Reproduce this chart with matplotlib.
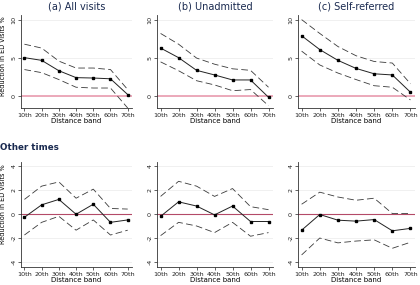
import matplotlib.pyplot as plt
import numpy as np

bands = ["10th", "20th", "30th", "40th", "50th", "60th", "70th"]

# top row (main results)
a_est = [5.05, 4.7, 3.35, 2.45, 2.4, 2.3, 0.25]
a_hi = [6.8, 6.3, 4.6, 3.7, 3.7, 3.5, 0.9]
a_lo = [3.5, 3.1, 2.2, 1.2, 1.1, 1.1, -1.5]

b_est = [6.3, 5.05, 3.4, 2.8, 2.15, 2.15, -0.1]
b_hi = [8.2, 6.8, 5.0, 4.2, 3.6, 3.4, 1.2]
b_lo = [4.5, 3.35, 2.05, 1.5, 0.75, 0.9, -1.2]

c_est = [7.9, 6.1, 4.7, 3.65, 2.95, 2.8, 0.55]
c_hi = [10.0, 8.2, 6.5, 5.3, 4.55, 4.35, 1.65]
c_lo = [5.9, 4.1, 3.05, 2.2, 1.4, 1.2, -0.45]

# bottom row (other times)
d_est = [-0.28, 0.75, 1.2, -0.03, 0.8, -0.7, -0.5]
d_hi = [1.2, 2.3, 2.65, 1.3, 2.05, 0.45, 0.4]
d_lo = [-1.75, -0.7, -0.2, -1.35, -0.5, -1.75, -1.35]

e_est = [-0.2, 1.0, 0.65, -0.08, 0.65, -0.63, -0.63]
e_hi = [1.45, 2.7, 2.3, 1.45, 2.1, 0.6, 0.35]
e_lo = [-1.8, -0.7, -1.0, -1.55, -0.7, -1.85, -1.55]

f_est = [-1.35, -0.05, -0.52, -0.6, -0.47, -1.4, -1.2]
f_hi = [0.8, 1.8, 1.4, 1.13, 1.3, 0.03, 0.03]
f_lo = [-3.4, -2.0, -2.4, -2.25, -2.15, -2.85, -2.35]

titles = ["(a) All visits", "(b) Unadmitted", "(c) Self-referred"]
top = [(a_est, a_hi, a_lo), (b_est, b_hi, b_lo), (c_est, c_hi, c_lo)]
bottom = [(d_est, d_hi, d_lo), (e_est, e_hi, e_lo), (f_est, f_hi, f_lo)]

fig = plt.figure(figsize=(4.2, 2.85), dpi=100)
x = np.arange(1, 8)

lefts = [21, 157, 298]
widths = [111, 116, 117]


def draw(ax, est, hi, lo, yticks, ylim, zcol, zlw):
    for yt in yticks:
        ax.axhline(yt, color="#eeeeee", lw=0.6, zorder=0)
    ax.axhline(0, color=zcol, lw=zlw, zorder=1)
    ax.plot(x, hi, color="#3a3a3a", lw=0.6, ls=(0, (8, 4)))
    ax.plot(x, lo, color="#3a3a3a", lw=0.6, ls=(0, (8, 4)))
    ax.plot(x, est, color="#222222", lw=0.7, marker="s", ms=1.9, mfc="black", mec="black")
    ax.set_xlim(0.8, 7.25)
    ax.set_ylim(*ylim)
    ax.set_xticks(x)
    ax.set_xticklabels(bands, fontsize=4.6)
    ax.set_yticks(yticks)
    ax.set_yticklabels([str(v) for v in yticks], fontsize=4.6, rotation=90, va="center")
    ax.spines["top"].set_visible(False)
    ax.spines["right"].set_visible(False)
    for s in ("left", "bottom"):
        ax.spines[s].set_linewidth(0.6)
        ax.spines[s].set_color("#333333")
    ax.tick_params(length=2.2, width=0.5, pad=1.2, colors="#222222")
    ax.set_xlabel("Distance band", fontsize=5.0, labelpad=0.3)


for i in range(3):
    ax = fig.add_axes([lefts[i] / 420, 1 - 108 / 285, widths[i] / 420, 93 / 285])
    est, hi, lo = top[i]
    draw(ax, est, hi, lo, [0, 5, 10], (-1.5, 10.6), "#eba3b5", 1.3)
    ax.set_title(titles[i], fontsize=7.0, color="#1a2a50", pad=4)
    if i == 0:
        ax.set_ylabel("Reduction in ED visits %", fontsize=4.7)
        ax.yaxis.set_label_coords(-0.135, 0.56)

for i in range(3):
    ax = fig.add_axes([lefts[i] / 420, 1 - 267 / 285, widths[i] / 420, 105 / 285])
    est, hi, lo = bottom[i]
    draw(ax, est, hi, lo, [-4, -2, 0, 2, 4], (-4.4, 4.3), "#b44a68", 0.8)
    if i == 0:
        ax.set_ylabel("Reduction in ED visits %", fontsize=4.7)
        ax.yaxis.set_label_coords(-0.135, 0.6)

fig.text(0.0, 1 - 147 / 285, "Other times", fontsize=6.3, fontweight="bold",
         color="#1a2a50", va="center", ha="left")

fig.savefig("out.png", dpi=100)
